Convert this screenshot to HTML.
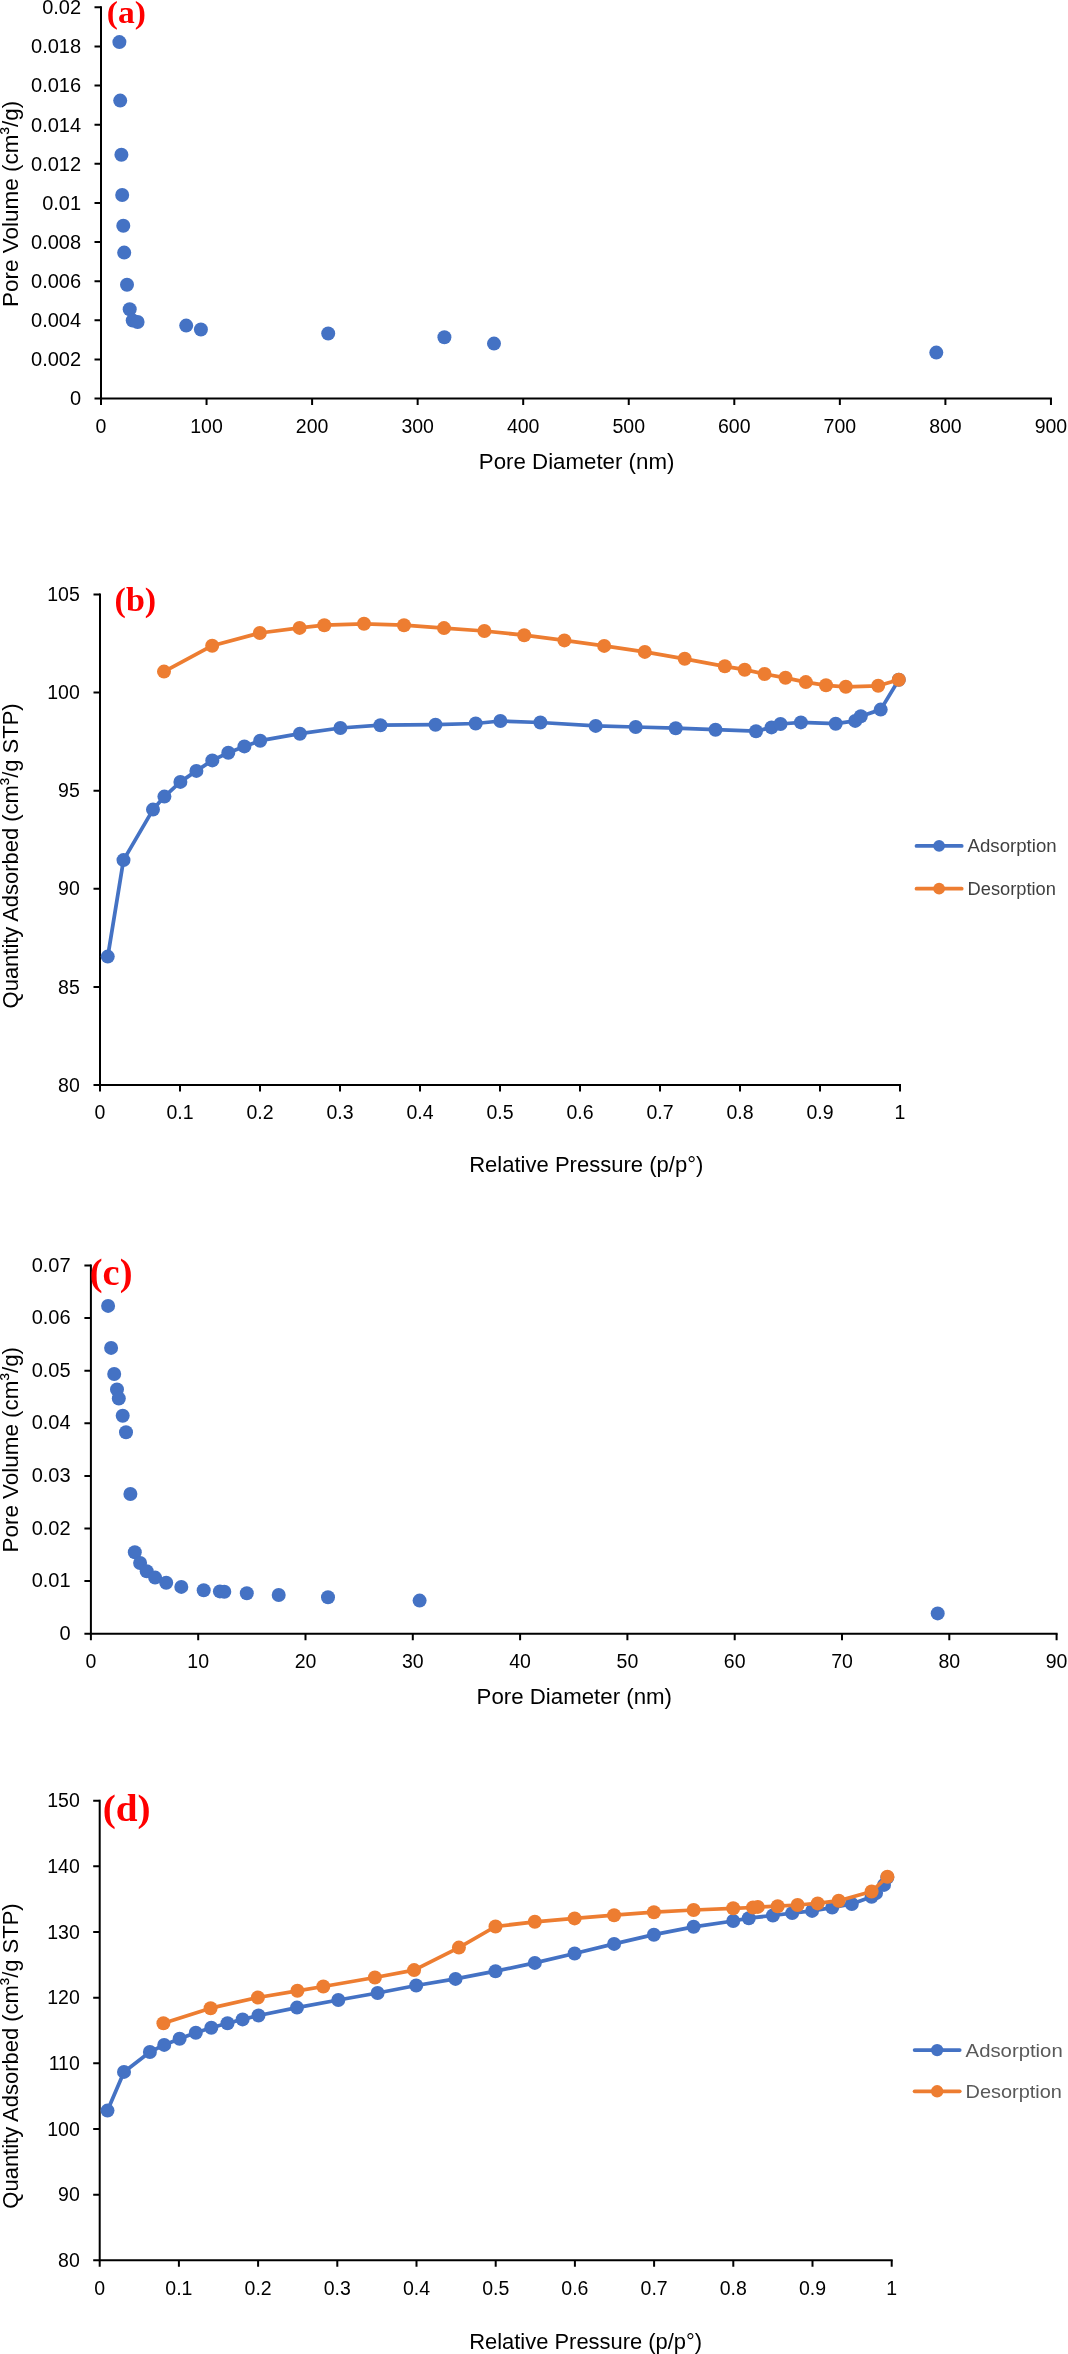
<!DOCTYPE html>
<html><head><meta charset="utf-8"><title>Pore analysis charts</title>
<style>
html,body{margin:0;padding:0;background:#fff;}
svg{display:block;will-change:transform;}
text{font-family:"Liberation Sans",sans-serif;fill:#000;}
</style></head>
<body>
<svg width="1068" height="2354" viewBox="0 0 1068 2354">
<rect width="1068" height="2354" fill="#fff"/>
<path d="M101 7.3V398.5H1050.95" fill="none" stroke="#000" stroke-width="2" stroke-linejoin="miter" stroke-linecap="square"/>
<path d="M94.5 7.3H101M94.5 46.42H101M94.5 85.54H101M94.5 124.66H101M94.5 163.78H101M94.5 202.9H101M94.5 242.02H101M94.5 281.14H101M94.5 320.26H101M94.5 359.38H101M94.5 398.5H101M101 398.5V405M206.55 398.5V405M312.1 398.5V405M417.65 398.5V405M523.2 398.5V405M628.75 398.5V405M734.3 398.5V405M839.85 398.5V405M945.4 398.5V405M1050.95 398.5V405" fill="none" stroke="#000" stroke-width="2"/>
<text x="81.1" y="14.16" text-anchor="end" font-size="20">0.02</text>
<text x="81.1" y="53.28" text-anchor="end" font-size="20">0.018</text>
<text x="81.1" y="92.4" text-anchor="end" font-size="20">0.016</text>
<text x="81.1" y="131.52" text-anchor="end" font-size="20">0.014</text>
<text x="81.1" y="170.64" text-anchor="end" font-size="20">0.012</text>
<text x="81.1" y="209.76" text-anchor="end" font-size="20">0.01</text>
<text x="81.1" y="248.88" text-anchor="end" font-size="20">0.008</text>
<text x="81.1" y="288" text-anchor="end" font-size="20">0.006</text>
<text x="81.1" y="327.12" text-anchor="end" font-size="20">0.004</text>
<text x="81.1" y="366.24" text-anchor="end" font-size="20">0.002</text>
<text x="81.1" y="405.36" text-anchor="end" font-size="20">0</text>
<text x="101" y="432.99" text-anchor="middle" font-size="19.5">0</text>
<text x="206.55" y="432.99" text-anchor="middle" font-size="19.5">100</text>
<text x="312.1" y="432.99" text-anchor="middle" font-size="19.5">200</text>
<text x="417.65" y="432.99" text-anchor="middle" font-size="19.5">300</text>
<text x="523.2" y="432.99" text-anchor="middle" font-size="19.5">400</text>
<text x="628.75" y="432.99" text-anchor="middle" font-size="19.5">500</text>
<text x="734.3" y="432.99" text-anchor="middle" font-size="19.5">600</text>
<text x="839.85" y="432.99" text-anchor="middle" font-size="19.5">700</text>
<text x="945.4" y="432.99" text-anchor="middle" font-size="19.5">800</text>
<text x="1050.95" y="432.99" text-anchor="middle" font-size="19.5">900</text>
<circle cx="119.4" cy="42.1" r="7.0" fill="#4472C4"/>
<circle cx="120.2" cy="100.6" r="7.0" fill="#4472C4"/>
<circle cx="121.4" cy="154.7" r="7.0" fill="#4472C4"/>
<circle cx="122.2" cy="195" r="7.0" fill="#4472C4"/>
<circle cx="123.3" cy="225.7" r="7.0" fill="#4472C4"/>
<circle cx="124.2" cy="252.6" r="7.0" fill="#4472C4"/>
<circle cx="127" cy="284.8" r="7.0" fill="#4472C4"/>
<circle cx="129.7" cy="309.2" r="7.0" fill="#4472C4"/>
<circle cx="132.7" cy="320.5" r="7.0" fill="#4472C4"/>
<circle cx="137.6" cy="322" r="7.0" fill="#4472C4"/>
<circle cx="186.2" cy="325.6" r="7.0" fill="#4472C4"/>
<circle cx="200.9" cy="329.5" r="7.0" fill="#4472C4"/>
<circle cx="328.2" cy="333.5" r="7.0" fill="#4472C4"/>
<circle cx="444.4" cy="337.2" r="7.0" fill="#4472C4"/>
<circle cx="494" cy="343.6" r="7.0" fill="#4472C4"/>
<circle cx="936.3" cy="352.6" r="7.0" fill="#4472C4"/>
<text x="576.6" y="469.1" text-anchor="middle" font-size="22" textLength="195.6" lengthAdjust="spacingAndGlyphs">Pore Diameter (nm)</text>
<text transform="translate(17.9 203.8) rotate(-90)" x="0" y="0" text-anchor="middle" font-size="22.5" textLength="206.3" lengthAdjust="spacingAndGlyphs">Pore Volume (cm<tspan dy="-3">³</tspan><tspan dy="3">/g)</tspan></text>
<text x="106.8" y="23.2" style="font-family:'Liberation Serif',serif;font-weight:bold;fill:#FF0000" font-size="32" textLength="39.1" lengthAdjust="spacingAndGlyphs">(a)</text>
<path d="M100 594.5V1085H900" fill="none" stroke="#000" stroke-width="2" stroke-linejoin="miter" stroke-linecap="square"/>
<path d="M93.5 594.5H100M93.5 692.6H100M93.5 790.7H100M93.5 888.8H100M93.5 986.9H100M93.5 1085H100M100 1085V1091.5M180 1085V1091.5M260 1085V1091.5M340 1085V1091.5M420 1085V1091.5M500 1085V1091.5M580 1085V1091.5M660 1085V1091.5M740 1085V1091.5M820 1085V1091.5M900 1085V1091.5" fill="none" stroke="#000" stroke-width="2"/>
<text x="79.8" y="601.19" text-anchor="end" font-size="19.5">105</text>
<text x="79.8" y="699.29" text-anchor="end" font-size="19.5">100</text>
<text x="79.8" y="797.39" text-anchor="end" font-size="19.5">95</text>
<text x="79.8" y="895.49" text-anchor="end" font-size="19.5">90</text>
<text x="79.8" y="993.59" text-anchor="end" font-size="19.5">85</text>
<text x="79.8" y="1091.69" text-anchor="end" font-size="19.5">80</text>
<text x="100" y="1119.29" text-anchor="middle" font-size="19.5">0</text>
<text x="180" y="1119.29" text-anchor="middle" font-size="19.5">0.1</text>
<text x="260" y="1119.29" text-anchor="middle" font-size="19.5">0.2</text>
<text x="340" y="1119.29" text-anchor="middle" font-size="19.5">0.3</text>
<text x="420" y="1119.29" text-anchor="middle" font-size="19.5">0.4</text>
<text x="500" y="1119.29" text-anchor="middle" font-size="19.5">0.5</text>
<text x="580" y="1119.29" text-anchor="middle" font-size="19.5">0.6</text>
<text x="660" y="1119.29" text-anchor="middle" font-size="19.5">0.7</text>
<text x="740" y="1119.29" text-anchor="middle" font-size="19.5">0.8</text>
<text x="820" y="1119.29" text-anchor="middle" font-size="19.5">0.9</text>
<text x="900" y="1119.29" text-anchor="middle" font-size="19.5">1</text>
<path d="M107.75 956.6 L123.5 860.1 L153 809.6 L164.4 796.6 L180.4 781.9 L196.4 770.9 L212.3 760.4 L228.3 752.7 L244.4 746.4 L260.2 740.7 L299.9 733.7 L340.4 728 L380.4 725.2 L435.5 724.7 L475.7 723.5 L500.4 721 L540.4 722.5 L595.7 725.9 L635.7 727 L675.7 728.2 L715.5 729.7 L756 731.2 L771.5 727.4 L780.5 724 L800.9 722.4 L835.7 723.7 L855.2 720.9 L860.8 716.2 L880.7 709.6 L898.8 679.7" fill="none" stroke="#4472C4" stroke-width="3.75" stroke-linejoin="round" stroke-linecap="round"/>
<circle cx="107.75" cy="956.6" r="7.0" fill="#4472C4"/>
<circle cx="123.5" cy="860.1" r="7.0" fill="#4472C4"/>
<circle cx="153" cy="809.6" r="7.0" fill="#4472C4"/>
<circle cx="164.4" cy="796.6" r="7.0" fill="#4472C4"/>
<circle cx="180.4" cy="781.9" r="7.0" fill="#4472C4"/>
<circle cx="196.4" cy="770.9" r="7.0" fill="#4472C4"/>
<circle cx="212.3" cy="760.4" r="7.0" fill="#4472C4"/>
<circle cx="228.3" cy="752.7" r="7.0" fill="#4472C4"/>
<circle cx="244.4" cy="746.4" r="7.0" fill="#4472C4"/>
<circle cx="260.2" cy="740.7" r="7.0" fill="#4472C4"/>
<circle cx="299.9" cy="733.7" r="7.0" fill="#4472C4"/>
<circle cx="340.4" cy="728" r="7.0" fill="#4472C4"/>
<circle cx="380.4" cy="725.2" r="7.0" fill="#4472C4"/>
<circle cx="435.5" cy="724.7" r="7.0" fill="#4472C4"/>
<circle cx="475.7" cy="723.5" r="7.0" fill="#4472C4"/>
<circle cx="500.4" cy="721" r="7.0" fill="#4472C4"/>
<circle cx="540.4" cy="722.5" r="7.0" fill="#4472C4"/>
<circle cx="595.7" cy="725.9" r="7.0" fill="#4472C4"/>
<circle cx="635.7" cy="727" r="7.0" fill="#4472C4"/>
<circle cx="675.7" cy="728.2" r="7.0" fill="#4472C4"/>
<circle cx="715.5" cy="729.7" r="7.0" fill="#4472C4"/>
<circle cx="756" cy="731.2" r="7.0" fill="#4472C4"/>
<circle cx="771.5" cy="727.4" r="7.0" fill="#4472C4"/>
<circle cx="780.5" cy="724" r="7.0" fill="#4472C4"/>
<circle cx="800.9" cy="722.4" r="7.0" fill="#4472C4"/>
<circle cx="835.7" cy="723.7" r="7.0" fill="#4472C4"/>
<circle cx="855.2" cy="720.9" r="7.0" fill="#4472C4"/>
<circle cx="860.8" cy="716.2" r="7.0" fill="#4472C4"/>
<circle cx="880.7" cy="709.6" r="7.0" fill="#4472C4"/>
<circle cx="898.8" cy="679.7" r="7.0" fill="#4472C4"/>
<path d="M164 671.6 L212.2 645.7 L259.8 633 L299.6 627.9 L324.3 625.2 L364 623.8 L404 625.2 L444 628.1 L484.4 631 L524.2 635.2 L564.4 640.4 L604.2 645.9 L644.8 651.9 L684.7 658.8 L724.8 666.3 L744.7 669.7 L764.6 674 L785.5 677.8 L805.8 682.1 L826 685.3 L845.8 686.8 L878.2 685.8 L898.8 679.7" fill="none" stroke="#ED7D31" stroke-width="3.75" stroke-linejoin="round" stroke-linecap="round"/>
<circle cx="164" cy="671.6" r="7.0" fill="#ED7D31"/>
<circle cx="212.2" cy="645.7" r="7.0" fill="#ED7D31"/>
<circle cx="259.8" cy="633" r="7.0" fill="#ED7D31"/>
<circle cx="299.6" cy="627.9" r="7.0" fill="#ED7D31"/>
<circle cx="324.3" cy="625.2" r="7.0" fill="#ED7D31"/>
<circle cx="364" cy="623.8" r="7.0" fill="#ED7D31"/>
<circle cx="404" cy="625.2" r="7.0" fill="#ED7D31"/>
<circle cx="444" cy="628.1" r="7.0" fill="#ED7D31"/>
<circle cx="484.4" cy="631" r="7.0" fill="#ED7D31"/>
<circle cx="524.2" cy="635.2" r="7.0" fill="#ED7D31"/>
<circle cx="564.4" cy="640.4" r="7.0" fill="#ED7D31"/>
<circle cx="604.2" cy="645.9" r="7.0" fill="#ED7D31"/>
<circle cx="644.8" cy="651.9" r="7.0" fill="#ED7D31"/>
<circle cx="684.7" cy="658.8" r="7.0" fill="#ED7D31"/>
<circle cx="724.8" cy="666.3" r="7.0" fill="#ED7D31"/>
<circle cx="744.7" cy="669.7" r="7.0" fill="#ED7D31"/>
<circle cx="764.6" cy="674" r="7.0" fill="#ED7D31"/>
<circle cx="785.5" cy="677.8" r="7.0" fill="#ED7D31"/>
<circle cx="805.8" cy="682.1" r="7.0" fill="#ED7D31"/>
<circle cx="826" cy="685.3" r="7.0" fill="#ED7D31"/>
<circle cx="845.8" cy="686.8" r="7.0" fill="#ED7D31"/>
<circle cx="878.2" cy="685.8" r="7.0" fill="#ED7D31"/>
<circle cx="898.8" cy="679.7" r="7.0" fill="#ED7D31"/>
<text x="586.25" y="1172" text-anchor="middle" font-size="22" textLength="234.1" lengthAdjust="spacingAndGlyphs">Relative Pressure (p/p°)</text>
<text transform="translate(18.3 855.9) rotate(-90)" x="0" y="0" text-anchor="middle" font-size="22" textLength="305" lengthAdjust="spacingAndGlyphs">Quantity Adsorbed (cm<tspan dy="-3">³</tspan><tspan dy="3">/g STP)</tspan></text>
<text x="114.6" y="611" style="font-family:'Liberation Serif',serif;font-weight:bold;fill:#FF0000" font-size="33" textLength="41.6" lengthAdjust="spacingAndGlyphs">(b)</text>
<path d="M916.5 845.9H961.7" stroke="#4472C4" stroke-width="3.75" stroke-linecap="round"/>
<circle cx="939.1" cy="845.9" r="5.9" fill="#4472C4"/>
<text x="967.6" y="852.07" font-size="18" style="fill:#404040" textLength="89" lengthAdjust="spacingAndGlyphs">Adsorption</text>
<path d="M916.5 888.7H961.7" stroke="#ED7D31" stroke-width="3.75" stroke-linecap="round"/>
<circle cx="939.1" cy="888.7" r="5.9" fill="#ED7D31"/>
<text x="967.6" y="894.87" font-size="18" style="fill:#404040" textLength="88.3" lengthAdjust="spacingAndGlyphs">Desorption</text>
<path d="M90.9 1265.5V1633.7H1056.6" fill="none" stroke="#000" stroke-width="2" stroke-linejoin="miter" stroke-linecap="square"/>
<path d="M84.4 1265.5H90.9M84.4 1318.1H90.9M84.4 1370.7H90.9M84.4 1423.3H90.9M84.4 1475.9H90.9M84.4 1528.5H90.9M84.4 1581.1H90.9M84.4 1633.7H90.9M90.9 1633.7V1640.2M198.2 1633.7V1640.2M305.5 1633.7V1640.2M412.8 1633.7V1640.2M520.1 1633.7V1640.2M627.4 1633.7V1640.2M734.7 1633.7V1640.2M842 1633.7V1640.2M949.3 1633.7V1640.2M1056.6 1633.7V1640.2" fill="none" stroke="#000" stroke-width="2"/>
<text x="70.6" y="1271.56" text-anchor="end" font-size="20">0.07</text>
<text x="70.6" y="1324.16" text-anchor="end" font-size="20">0.06</text>
<text x="70.6" y="1376.76" text-anchor="end" font-size="20">0.05</text>
<text x="70.6" y="1429.36" text-anchor="end" font-size="20">0.04</text>
<text x="70.6" y="1481.96" text-anchor="end" font-size="20">0.03</text>
<text x="70.6" y="1534.56" text-anchor="end" font-size="20">0.02</text>
<text x="70.6" y="1587.16" text-anchor="end" font-size="20">0.01</text>
<text x="70.6" y="1639.76" text-anchor="end" font-size="20">0</text>
<text x="90.9" y="1668.39" text-anchor="middle" font-size="19.5">0</text>
<text x="198.2" y="1668.39" text-anchor="middle" font-size="19.5">10</text>
<text x="305.5" y="1668.39" text-anchor="middle" font-size="19.5">20</text>
<text x="412.8" y="1668.39" text-anchor="middle" font-size="19.5">30</text>
<text x="520.1" y="1668.39" text-anchor="middle" font-size="19.5">40</text>
<text x="627.4" y="1668.39" text-anchor="middle" font-size="19.5">50</text>
<text x="734.7" y="1668.39" text-anchor="middle" font-size="19.5">60</text>
<text x="842" y="1668.39" text-anchor="middle" font-size="19.5">70</text>
<text x="949.3" y="1668.39" text-anchor="middle" font-size="19.5">80</text>
<text x="1056.6" y="1668.39" text-anchor="middle" font-size="19.5">90</text>
<circle cx="108.1" cy="1305.9" r="7.0" fill="#4472C4"/>
<circle cx="111.1" cy="1347.9" r="7.0" fill="#4472C4"/>
<circle cx="114.2" cy="1374" r="7.0" fill="#4472C4"/>
<circle cx="117" cy="1389.5" r="7.0" fill="#4472C4"/>
<circle cx="118.8" cy="1398.5" r="7.0" fill="#4472C4"/>
<circle cx="122.7" cy="1415.7" r="7.0" fill="#4472C4"/>
<circle cx="126" cy="1432.2" r="7.0" fill="#4472C4"/>
<circle cx="130.4" cy="1494" r="7.0" fill="#4472C4"/>
<circle cx="134.8" cy="1552.2" r="7.0" fill="#4472C4"/>
<circle cx="140.1" cy="1563" r="7.0" fill="#4472C4"/>
<circle cx="146.7" cy="1571.2" r="7.0" fill="#4472C4"/>
<circle cx="155.1" cy="1577.6" r="7.0" fill="#4472C4"/>
<circle cx="166.2" cy="1582.7" r="7.0" fill="#4472C4"/>
<circle cx="181.3" cy="1586.9" r="7.0" fill="#4472C4"/>
<circle cx="203.7" cy="1590.2" r="7.0" fill="#4472C4"/>
<circle cx="219.9" cy="1591.4" r="7.0" fill="#4472C4"/>
<circle cx="224.3" cy="1591.7" r="7.0" fill="#4472C4"/>
<circle cx="246.8" cy="1593.3" r="7.0" fill="#4472C4"/>
<circle cx="278.7" cy="1595" r="7.0" fill="#4472C4"/>
<circle cx="328" cy="1597.3" r="7.0" fill="#4472C4"/>
<circle cx="419.6" cy="1600.6" r="7.0" fill="#4472C4"/>
<circle cx="937.7" cy="1613.4" r="7.0" fill="#4472C4"/>
<text x="574.3" y="1703.9" text-anchor="middle" font-size="22" textLength="195.4" lengthAdjust="spacingAndGlyphs">Pore Diameter (nm)</text>
<text transform="translate(18.4 1449.7) rotate(-90)" x="0" y="0" text-anchor="middle" font-size="22.5" textLength="205.6" lengthAdjust="spacingAndGlyphs">Pore Volume (cm<tspan dy="-3">³</tspan><tspan dy="3">/g)</tspan></text>
<text x="89.8" y="1285" style="font-family:'Liberation Serif',serif;font-weight:bold;fill:#FF0000" font-size="37" textLength="42.7" lengthAdjust="spacingAndGlyphs">(c)</text>
<path d="M99.7 1800.7V2260.3H891.7" fill="none" stroke="#000" stroke-width="2" stroke-linejoin="miter" stroke-linecap="square"/>
<path d="M93.2 1800.7H99.7M93.2 1866.36H99.7M93.2 1932.01H99.7M93.2 1997.67H99.7M93.2 2063.33H99.7M93.2 2128.99H99.7M93.2 2194.64H99.7M93.2 2260.3H99.7M99.7 2260.3V2266.8M178.9 2260.3V2266.8M258.1 2260.3V2266.8M337.3 2260.3V2266.8M416.5 2260.3V2266.8M495.7 2260.3V2266.8M574.9 2260.3V2266.8M654.1 2260.3V2266.8M733.3 2260.3V2266.8M812.5 2260.3V2266.8M891.7 2260.3V2266.8" fill="none" stroke="#000" stroke-width="2"/>
<text x="79.8" y="1807.39" text-anchor="end" font-size="19.5">150</text>
<text x="79.8" y="1873.05" text-anchor="end" font-size="19.5">140</text>
<text x="79.8" y="1938.7" text-anchor="end" font-size="19.5">130</text>
<text x="79.8" y="2004.36" text-anchor="end" font-size="19.5">120</text>
<text x="79.8" y="2070.02" text-anchor="end" font-size="19.5">110</text>
<text x="79.8" y="2135.67" text-anchor="end" font-size="19.5">100</text>
<text x="79.8" y="2201.33" text-anchor="end" font-size="19.5">90</text>
<text x="79.8" y="2266.99" text-anchor="end" font-size="19.5">80</text>
<text x="99.7" y="2295.19" text-anchor="middle" font-size="19.5">0</text>
<text x="178.9" y="2295.19" text-anchor="middle" font-size="19.5">0.1</text>
<text x="258.1" y="2295.19" text-anchor="middle" font-size="19.5">0.2</text>
<text x="337.3" y="2295.19" text-anchor="middle" font-size="19.5">0.3</text>
<text x="416.5" y="2295.19" text-anchor="middle" font-size="19.5">0.4</text>
<text x="495.7" y="2295.19" text-anchor="middle" font-size="19.5">0.5</text>
<text x="574.9" y="2295.19" text-anchor="middle" font-size="19.5">0.6</text>
<text x="654.1" y="2295.19" text-anchor="middle" font-size="19.5">0.7</text>
<text x="733.3" y="2295.19" text-anchor="middle" font-size="19.5">0.8</text>
<text x="812.5" y="2295.19" text-anchor="middle" font-size="19.5">0.9</text>
<text x="891.7" y="2295.19" text-anchor="middle" font-size="19.5">1</text>
<path d="M107.5 2110.6 L124 2071.9 L149.9 2052 L164.2 2044.9 L179.6 2038.7 L195.8 2032.7 L211.3 2027.7 L227.5 2023.2 L242.6 2019.4 L258.5 2015.5 L297 2007.6 L338.3 2000 L377.6 1993 L416.2 1985.5 L455.5 1978.9 L495.5 1971.2 L534.8 1962.9 L574.6 1953.5 L614.1 1943.9 L653.9 1934.7 L693.6 1926.8 L733.2 1921 L748.8 1918.2 L772.9 1915.5 L792.2 1913.1 L812.1 1910.9 L832.2 1907.6 L851.8 1904 L871.6 1896.7 L876.1 1893 L884 1884.9 L887.3 1877.5" fill="none" stroke="#4472C4" stroke-width="3.75" stroke-linejoin="round" stroke-linecap="round"/>
<circle cx="107.5" cy="2110.6" r="7.0" fill="#4472C4"/>
<circle cx="124" cy="2071.9" r="7.0" fill="#4472C4"/>
<circle cx="149.9" cy="2052" r="7.0" fill="#4472C4"/>
<circle cx="164.2" cy="2044.9" r="7.0" fill="#4472C4"/>
<circle cx="179.6" cy="2038.7" r="7.0" fill="#4472C4"/>
<circle cx="195.8" cy="2032.7" r="7.0" fill="#4472C4"/>
<circle cx="211.3" cy="2027.7" r="7.0" fill="#4472C4"/>
<circle cx="227.5" cy="2023.2" r="7.0" fill="#4472C4"/>
<circle cx="242.6" cy="2019.4" r="7.0" fill="#4472C4"/>
<circle cx="258.5" cy="2015.5" r="7.0" fill="#4472C4"/>
<circle cx="297" cy="2007.6" r="7.0" fill="#4472C4"/>
<circle cx="338.3" cy="2000" r="7.0" fill="#4472C4"/>
<circle cx="377.6" cy="1993" r="7.0" fill="#4472C4"/>
<circle cx="416.2" cy="1985.5" r="7.0" fill="#4472C4"/>
<circle cx="455.5" cy="1978.9" r="7.0" fill="#4472C4"/>
<circle cx="495.5" cy="1971.2" r="7.0" fill="#4472C4"/>
<circle cx="534.8" cy="1962.9" r="7.0" fill="#4472C4"/>
<circle cx="574.6" cy="1953.5" r="7.0" fill="#4472C4"/>
<circle cx="614.1" cy="1943.9" r="7.0" fill="#4472C4"/>
<circle cx="653.9" cy="1934.7" r="7.0" fill="#4472C4"/>
<circle cx="693.6" cy="1926.8" r="7.0" fill="#4472C4"/>
<circle cx="733.2" cy="1921" r="7.0" fill="#4472C4"/>
<circle cx="748.8" cy="1918.2" r="7.0" fill="#4472C4"/>
<circle cx="772.9" cy="1915.5" r="7.0" fill="#4472C4"/>
<circle cx="792.2" cy="1913.1" r="7.0" fill="#4472C4"/>
<circle cx="812.1" cy="1910.9" r="7.0" fill="#4472C4"/>
<circle cx="832.2" cy="1907.6" r="7.0" fill="#4472C4"/>
<circle cx="851.8" cy="1904" r="7.0" fill="#4472C4"/>
<circle cx="871.6" cy="1896.7" r="7.0" fill="#4472C4"/>
<circle cx="876.1" cy="1893" r="7.0" fill="#4472C4"/>
<circle cx="884" cy="1884.9" r="7.0" fill="#4472C4"/>
<circle cx="887.3" cy="1877.5" r="7.0" fill="#4472C4"/>
<path d="M163.4 2023.2 L210.6 2008.2 L257.9 1997.5 L297.4 1990.8 L323.3 1986.5 L374.9 1977.5 L414.1 1970.1 L458.9 1947.6 L495.5 1926.5 L534.8 1921.8 L574.6 1918.4 L614.1 1915.2 L653.9 1912.2 L693.6 1910 L733.2 1908.3 L753 1907.5 L757.8 1906.9 L777.7 1906.2 L797.6 1905 L817.7 1903.4 L838.7 1900.7 L871.6 1891.5 L887.4 1876.7" fill="none" stroke="#ED7D31" stroke-width="3.75" stroke-linejoin="round" stroke-linecap="round"/>
<circle cx="163.4" cy="2023.2" r="7.0" fill="#ED7D31"/>
<circle cx="210.6" cy="2008.2" r="7.0" fill="#ED7D31"/>
<circle cx="257.9" cy="1997.5" r="7.0" fill="#ED7D31"/>
<circle cx="297.4" cy="1990.8" r="7.0" fill="#ED7D31"/>
<circle cx="323.3" cy="1986.5" r="7.0" fill="#ED7D31"/>
<circle cx="374.9" cy="1977.5" r="7.0" fill="#ED7D31"/>
<circle cx="414.1" cy="1970.1" r="7.0" fill="#ED7D31"/>
<circle cx="458.9" cy="1947.6" r="7.0" fill="#ED7D31"/>
<circle cx="495.5" cy="1926.5" r="7.0" fill="#ED7D31"/>
<circle cx="534.8" cy="1921.8" r="7.0" fill="#ED7D31"/>
<circle cx="574.6" cy="1918.4" r="7.0" fill="#ED7D31"/>
<circle cx="614.1" cy="1915.2" r="7.0" fill="#ED7D31"/>
<circle cx="653.9" cy="1912.2" r="7.0" fill="#ED7D31"/>
<circle cx="693.6" cy="1910" r="7.0" fill="#ED7D31"/>
<circle cx="733.2" cy="1908.3" r="7.0" fill="#ED7D31"/>
<circle cx="753" cy="1907.5" r="7.0" fill="#ED7D31"/>
<circle cx="757.8" cy="1906.9" r="7.0" fill="#ED7D31"/>
<circle cx="777.7" cy="1906.2" r="7.0" fill="#ED7D31"/>
<circle cx="797.6" cy="1905" r="7.0" fill="#ED7D31"/>
<circle cx="817.7" cy="1903.4" r="7.0" fill="#ED7D31"/>
<circle cx="838.7" cy="1900.7" r="7.0" fill="#ED7D31"/>
<circle cx="871.6" cy="1891.5" r="7.0" fill="#ED7D31"/>
<circle cx="887.4" cy="1876.7" r="7.0" fill="#ED7D31"/>
<text x="585.65" y="2348.7" text-anchor="middle" font-size="22" textLength="232.9" lengthAdjust="spacingAndGlyphs">Relative Pressure (p/p°)</text>
<text transform="translate(18.2 2056) rotate(-90)" x="0" y="0" text-anchor="middle" font-size="22" textLength="305.3" lengthAdjust="spacingAndGlyphs">Quantity Adsorbed (cm<tspan dy="-3">³</tspan><tspan dy="3">/g STP)</tspan></text>
<text x="102.7" y="1820.7" style="font-family:'Liberation Serif',serif;font-weight:bold;fill:#FF0000" font-size="38" textLength="47.9" lengthAdjust="spacingAndGlyphs">(d)</text>
<path d="M914.6 2050.1H959.7" stroke="#4472C4" stroke-width="3.75" stroke-linecap="round"/>
<circle cx="937.15" cy="2050.1" r="6.2" fill="#4472C4"/>
<text x="965.6" y="2056.62" font-size="19" style="fill:#595959" textLength="97.1" lengthAdjust="spacingAndGlyphs">Adsorption</text>
<path d="M914.6 2091.3H959.7" stroke="#ED7D31" stroke-width="3.75" stroke-linecap="round"/>
<circle cx="937.15" cy="2091.3" r="6.2" fill="#ED7D31"/>
<text x="965.6" y="2097.82" font-size="19" style="fill:#595959" textLength="96.3" lengthAdjust="spacingAndGlyphs">Desorption</text>
</svg>
</body></html>
